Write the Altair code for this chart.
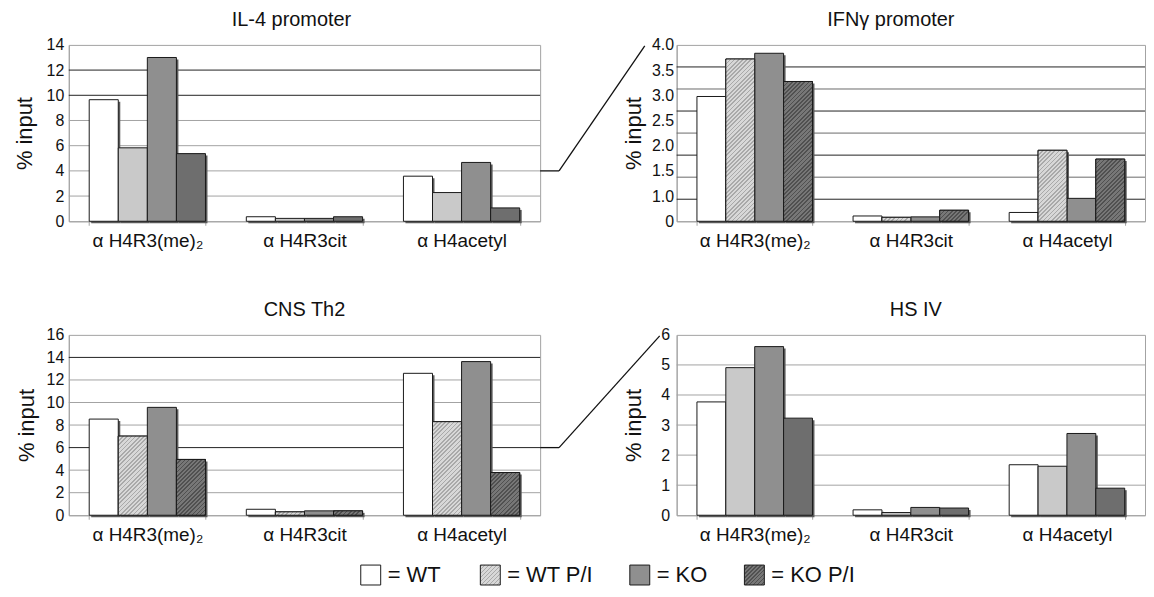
import altair as alt
import pandas as pd

FONT = "Liberation Sans"

# ---------------- data ----------------
categories = ["α H4R3(me)₂", "α H4R3cit", "α H4acetyl"]
groups = ["WT", "WT P/I", "KO", "KO P/I"]

# IL-4 promoter
il4_wt = [9.65, 0.36, 3.58]
il4_wtpi = [5.83, 0.23, 2.28]
il4_ko = [13.0, 0.23, 4.67]
il4_kopi = [5.37, 0.36, 1.06]

# IFNg promoter (read in gridline units, gridlines every 0.5)
ifng_wt = [2.83, 0.12, 0.20]
ifng_wtpi = [3.68, 0.09, 1.61]
ifng_ko = [3.81, 0.10, 0.52]
ifng_kopi = [3.17, 0.25, 1.41]

# CNS Th2
cns_wt = [8.53, 0.53, 12.59]
cns_wtpi = [7.02, 0.30, 8.30]
cns_ko = [9.57, 0.39, 13.63]
cns_kopi = [4.95, 0.39, 3.79]

# HS IV
hs4_wt = [3.77, 0.18, 1.68]
hs4_wtpi = [4.91, 0.09, 1.63]
hs4_ko = [5.61, 0.26, 2.72]
hs4_kopi = [3.23, 0.24, 0.90]

il4_ticks = [0, 2, 4, 6, 8, 10, 12, 14]
ifng_label_texts = ["0", "1.0", "1.5", "2.0", "2.5", "3.0", "3.5", "4.0"]
cns_ticks = [0, 2, 4, 6, 8, 10, 12, 14, 16]
hs4_ticks = [0, 1, 2, 3, 4, 5, 6]

# ---------------- style ----------------
SOLID = ["#ffffff", "#c9c9c9", "#8f8f8f", "#6e6e6e"]
HATCH = {"WT P/I": ("#d8d8d8", "#a9a9a9"), "KO P/I": ("#777777", "#505050")}
LIGHT = "#a3a3a3"
DARK = "#222222"
MID = "#6a6a6a"
PI, PO = 0.26, 0.13


def hatch(w, h, bg, fg, period=4.2, frac=0.4):
    h = max(h, 1.0)
    L = w + h * h / w
    n = max(1, int(round(L / period)))
    stops = []
    for i in range(n):
        a = round(i / n, 5)
        b = round((i + frac) / n, 5)
        c = round((i + 1) / n, 5)
        stops += [alt.GradientStop(offset=a, color=fg), alt.GradientStop(offset=b, color=fg),
                  alt.GradientStop(offset=b, color=bg), alt.GradientStop(offset=c, color=bg)]
    return alt.LinearGradient(gradient="linear", x1=0, y1=0, x2=1, y2=h / w, stops=stops)


def make_df(series):
    rows = []
    for g, vals in zip(groups, series):
        for c, v in zip(categories, vals):
            rows.append({"cat": c, "grp": g, "val": v})
    return pd.DataFrame(rows)


def legend_layers(y0):
    LEG_X = [303, 423, 573, 688]
    out = []
    for i, g in enumerate(groups):
        if g in HATCH:
            fill = hatch(20, 20, HATCH[g][0], HATCH[g][1])
        else:
            fill = SOLID[i]
        out.append(alt.Chart(pd.DataFrame([{"grp": g}]))
                   .mark_square(size=400, fill=fill, stroke="#1a1a1a", strokeWidth=1, opacity=1)
                   .encode(x=alt.value(LEG_X[i]), y=alt.value(y0)))
        out.append(alt.Chart(pd.DataFrame([{"label": "= " + g}]))
                   .mark_text(align="left", baseline="middle", dx=17, fontSize=22, font=FONT, color="#111")
                   .encode(x=alt.value(LEG_X[i]), y=alt.value(y0), text="label:N"))
    return out


def panel(title, series, ymax, W, H, y_axis, grids, hatched, title_dx=0, connector=None, extra=None):
    df = make_df(series)
    x_axis = alt.Axis(title=None, labelFontSize=19, labelFont=FONT, labelColor="#111", labelAngle=0,
                      domainColor=LIGHT, tickColor=LIGHT, tickSize=4, tickBand="extent",
                      labelPadding=6, grid=False)
    xenc = alt.X("cat:N", sort=categories, axis=x_axis,
                 scale=alt.Scale(domain=categories, paddingInner=PI, paddingOuter=PO))
    xo = alt.XOffset("grp:N", sort=groups, scale=alt.Scale(domain=groups))
    yenc = alt.Y("val:Q", scale=alt.Scale(domain=[0, ymax], nice=False, zero=True), axis=y_axis)

    bw = W / 3 * (1 - PI)
    barw = bw / 4
    layers = []
    for vals, color in grids:
        if vals:
            layers.append(alt.Chart(pd.DataFrame({"val": vals})).mark_rule(color=color, strokeWidth=1)
                          .encode(y=yenc, x=alt.value(0), x2=alt.value(W)))
    # drop shadow
    layers.append(alt.Chart(df).mark_bar(color="#5a5a5a", yOffset=2)
                  .encode(x=xenc, y=yenc,
                          xOffset=alt.XOffset("grp:N", sort=groups,
                                              scale=alt.Scale(domain=groups, range=[2, bw + 2]))))
    layers.append(alt.Chart(df).mark_bar(stroke="#1a1a1a", strokeWidth=1)
                  .encode(x=xenc, xOffset=xo, y=yenc,
                          color=alt.Color("grp:N", scale=alt.Scale(domain=groups, range=SOLID), legend=None)))
    for g in hatched:
        bg, fg = HATCH[g]
        sub = df[df.grp == g]
        for _, r in sub.iterrows():
            hpx = r.val / ymax * H
            layers.append(alt.Chart(pd.DataFrame([r.to_dict()]))
                          .mark_bar(fill=hatch(barw, hpx, bg, fg), stroke="#1a1a1a", strokeWidth=1)
                          .encode(x=xenc, xOffset=xo, y=yenc))
    if connector is not None:
        cy, top_dx = connector
        one = pd.DataFrame({"val": [0]})
        layers.append(alt.Chart(one).mark_rule(color="#111", strokeWidth=1.3)
                      .encode(x=alt.value(W), x2=alt.value(W + 19), y=alt.value(cy)))
        layers.append(alt.Chart(one).mark_rule(color="#111", strokeWidth=1.3)
                      .encode(x=alt.value(W + 19), y=alt.value(cy), x2=alt.value(W + top_dx), y2=alt.value(1)))
    if extra:
        layers += extra
    return (alt.layer(*layers)
            .resolve_scale(xOffset="independent")
            .properties(width=W, height=H,
                        title=alt.TitleParams(title, fontSize=20, font=FONT, fontWeight="normal",
                                              color="#111", offset=7, dx=title_dx)))


def yaxis(values, label_pad, title_pad, expr=None):
    kw = dict(title="% input", titleFontSize=22, titleFont=FONT, titleFontWeight="normal",
              titleColor="#111", labelFontSize=16, labelFont=FONT, labelColor="#111",
              grid=False, ticks=False, domainColor=LIGHT, values=values,
              labelPadding=label_pad, titlePadding=title_pad)
    if expr:
        kw["labelExpr"] = expr
    return alt.Axis(**kw)


WL, WR = 473, 470
HT, HB = 177, 181

tl = panel("IL-4 promoter", [il4_wt, il4_wtpi, il4_ko, il4_kopi], 14, WL, HT,
           yaxis(il4_ticks, 5, 10),
           [([2, 4, 6, 8], LIGHT), ([10, 12], DARK)], [], title_dx=-13,
           connector=(HT * (1 - 4 / 14), 105))

ifng_label_pos = [4 * k / 7 for k in range(len(ifng_label_texts))]
ifng_expr = "datum.value < 0.01 ? '0' : format(0.5 + 0.5 * round(datum.value * 7 / 4), '.1f')"
tr = panel("IFNγ promoter", [ifng_wt, ifng_wtpi, ifng_ko, ifng_kopi], 4.0, WR, HT,
           yaxis(ifng_label_pos, 3, 6, ifng_expr),
           [([1.0, 2.0, 3.0], MID), ([0.5, 1.5, 2.5, 3.5], DARK)], ["WT P/I", "KO P/I"], title_dx=-20)

bl = panel("CNS Th2", [cns_wt, cns_wtpi, cns_ko, cns_kopi], 16, WL, HB,
           yaxis(cns_ticks, 5, 8),
           [([2, 4, 8, 10, 12], LIGHT), ([6, 14], DARK)], ["WT P/I", "KO P/I"],
           connector=(HB * (1 - 6 / 16), 120),
           extra=legend_layers(HB + 60))

br = panel("HS IV", [hs4_wt, hs4_wtpi, hs4_ko, hs4_kopi], 6, WR, HB,
           yaxis(hs4_ticks, 7, 15),
           [([1, 2, 3, 4, 5], LIGHT)], [], title_dx=5)

chart = (alt.concat(tl, tr, bl, br, columns=2, spacing={"row": 114, "column": 137}, bounds="flush")
         .properties(padding={"left": 4, "top": 0, "right": 0, "bottom": 2})
         .configure_view(stroke=LIGHT, strokeWidth=1)
         .configure_title(font=FONT, fontWeight="normal"))

chart.save("out.html", embed_options={"renderer": "svg", "actions": False})
